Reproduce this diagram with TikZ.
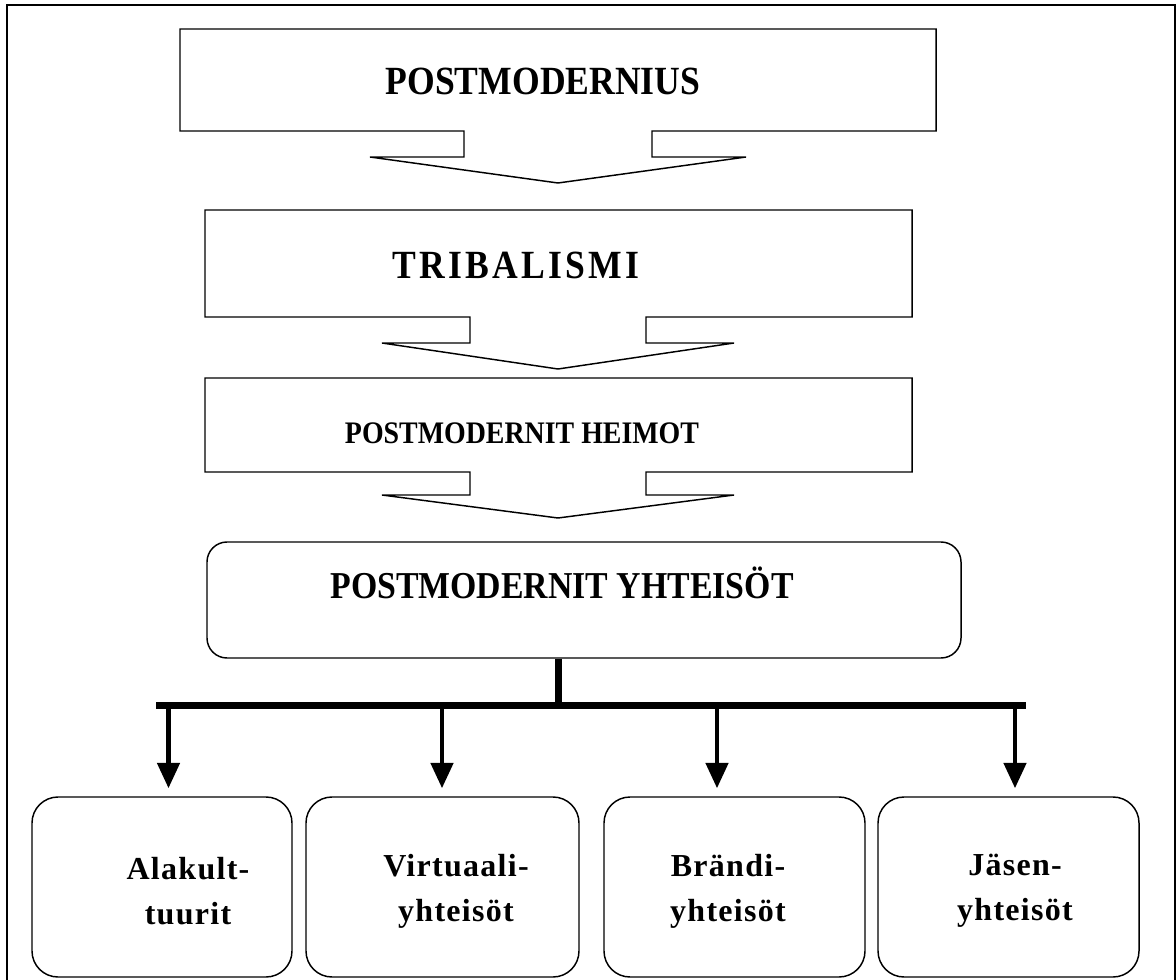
\documentclass[tikz,border=0pt]{standalone}
\usepackage{fontspec}
\setmainfont{Liberation Serif}
\newfontfamily\headfont[FakeStretch=0.89]{Liberation Serif}
\usetikzlibrary{arrows.meta, positioning, calc}
\tikzset{
  frame/.style={line width=1.5pt},
  callout/.style={line width=1.1pt, line join=miter},
  heading/.style={anchor=base, inner sep=0pt},
  roundbox/.style={rectangle, draw, line width=1.1pt, rounded corners=15pt},
  leafbox/.style={rectangle, draw, line width=1.1pt, rounded corners=19.5pt, minimum height=135pt},
  leaftext/.style={align=center, font=\bfseries\addfontfeature{LetterSpace=4}\fontsize{24}{33.75}\selectfont},
  bar/.style={line width=5.25pt},
  arr/.style={line width=3.4pt, -{Triangle[length=19pt, width=16.5pt]}, shorten >=6pt}
}

\begin{document}
\begin{tikzpicture}[x=0.75pt, y=-0.75pt]
  \useasboundingbox (0,0) rectangle (1176,980);
  % outer frame
  \draw[frame] (7,990) -- (7,5.5) -- (1174.5,5.5) -- (1174.5,990);

  % Postmodernius
  \draw[callout] (180,29) -- (936,29) -- (936,131) -- (652,131) -- (652,157) -- (746,157) -- (558,183)
    -- (370,157) -- (464,157) -- (464,131) -- (180,131) -- cycle;
  \node[heading, font=\headfont\bfseries\fontsize{30}{36}\selectfont] (pmod) at (543,95) {POSTMODERNIUS};

  % Tribalismi
  \draw[callout] (205,210) -- (912,210) -- (912,317) -- (646,317) -- (646,343) -- (734,343) -- (558,369)
    -- (382,343) -- (470,343) -- (470,317) -- (205,317) -- cycle;
  \node[heading, font=\headfont\bfseries\addfontfeature{LetterSpace=8}\fontsize{30}{36}\selectfont] (trib) at (516,278) {TRIBALISMI};

  % Postmodernit heimot
  \draw[callout] (205,378) -- (912,378) -- (912,472) -- (646,472) -- (646,495) -- (734,495) -- (558,518)
    -- (382,495) -- (470,495) -- (470,472) -- (205,472) -- cycle;
  \node[heading, font=\headfont\bfseries\fontsize{23.5}{28}\selectfont] (heim) at (522,443) {POSTMODERNIT HEIMOT};

  % Postmodernit yhteisot
  \node[roundbox, minimum width=565.5pt, minimum height=87pt] (yht) at (584,600) {};
  \node[heading, font=\headfont\bfseries\fontsize{28.5}{34}\selectfont] (yhtt) at (562,598) {POSTMODERNIT YHTEISÖT};

  % Branches
  \coordinate (hub) at (558.5,705.5);
  \coordinate (barL) at (156,705.5);
  \coordinate (barR) at (1026,705.5);
  \draw[bar] (hub |- yht.south) -- (hub);
  \draw[bar] (barL) -- (barR);

  \node[leafbox, minimum width=195pt] (alak) at (162,887) {};
  \node[leafbox, minimum width=204.75pt] (virt) at (442.5,887) {};
  \node[leafbox, minimum width=195.75pt] (brand) at (734.5,887) {};
  \node[leafbox, minimum width=195.75pt] (jas) at (1008.5,887) {};
  \node[leaftext] (alakt) at (188,891) {Alakult-\\tuurit};
  \node[leaftext] (virtt) at (456,891) {Virtuaali-\\yhteisöt};
  \node[leaftext] (brandt) at (728,891) {Brändi-\\yhteisöt};
  \node[leaftext] (jast) at (1015,891) {Jäsen-\\yhteisöt};

  \coordinate (t1) at (168.5,705.5);
  \coordinate (t2) at (442,705.5);
  \coordinate (t3) at (717,705.5);
  \coordinate (t4) at (1015,705.5);
  \draw[arr] (t1) -- (t1 |- alak.north);
  \draw[arr] (t2) -- (t2 |- virt.north);
  \draw[arr] (t3) -- (t3 |- brand.north);
  \draw[arr] (t4) -- (t4 |- jas.north);
\end{tikzpicture}
\end{document}
